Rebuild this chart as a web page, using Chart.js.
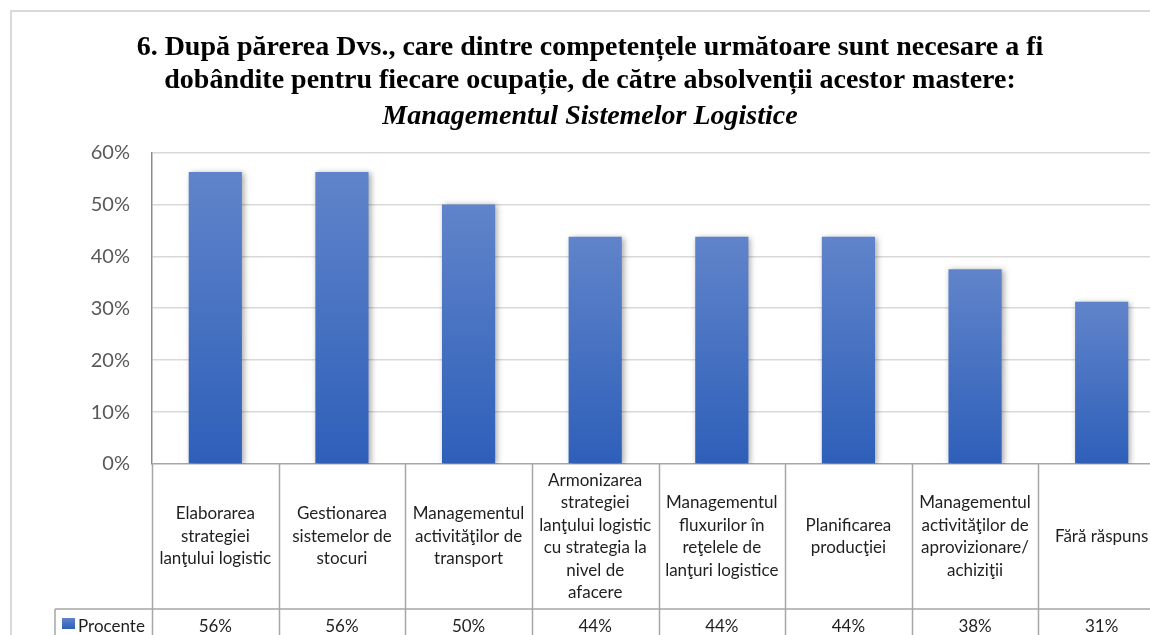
<!DOCTYPE html>
<html lang="ro">
<head>
<meta charset="UTF-8">
<title>Managementul Sistemelor Logistice</title>
<script src="https://cdn.jsdelivr.net/npm/chart.js@4.4.1/dist/chart.umd.min.js"></script>
<style>
  html, body { margin: 0; padding: 0; background: #fff; overflow: hidden; }
  #frame { position: absolute; left: 10px; top: 10px; width: 1300px; height: 800px;
           border-left: 2px solid #d9d9d9; border-top: 2px solid #d9d9d9; }
  #box { position: absolute; left: 10px; top: 0; width: 1160px; height: 650px; }
</style>
</head>
<body>
<div id="frame"></div>
<div id="box"><canvas id="chart"></canvas></div>
<script>
// date
var titleLines = ['6. După părerea Dvs., care dintre competențele următoare sunt necesare a fi',
                  'dobândite pentru fiecare ocupație, de către absolvenții acestor mastere:'];
var subtitleText = 'Managementul Sistemelor Logistice';
var seriesName = 'Procente';
var categories = [
  ['Elaborarea', 'strategiei', 'lanţului logistic'],
  ['Gestionarea', 'sistemelor de', 'stocuri'],
  ['Managementul', 'activităţilor de', 'transport'],
  ['Armonizarea', 'strategiei', 'lanţului logistic', 'cu strategia la', 'nivel de', 'afacere'],
  ['Managementul', 'fluxurilor în', 'reţelele de', 'lanţuri logistice'],
  ['Planificarea', 'producţiei'],
  ['Managementul', 'activităţilor de', 'aprovizionare/', 'achiziţii'],
  ['Fără răspuns']
];
var procente = [0.5625, 0.5625, 0.5, 0.4375, 0.4375, 0.4375, 0.375, 0.3125];
var yTicks = [0, 0.1, 0.2, 0.3, 0.4, 0.5, 0.6];

function pct(v) { return Math.round(v * 100) + '%'; }

Chart.defaults.font.family = 'Lato';

// gradient pe fiecare bara, de sus (deschis) in jos (inchis)
function barColor(c) {
  var chart = c.chart;
  if (c.type !== 'data' || !chart.chartArea) return '#4472c4';
  var y = chart.scales.y;
  var g = chart.ctx.createLinearGradient(0, y.getPixelForValue(c.raw), 0, y.getPixelForValue(0));
  g.addColorStop(0, '#6084ca');
  g.addColorStop(1, '#2e5fb9');
  return g;
}

var shadowPlugin = {
  id: 'barShadow',
  beforeDatasetsDraw: function (chart) {
    var ctx = chart.ctx;
    ctx.save();
    ctx.shadowColor = 'rgba(0,0,0,0.35)';
    ctx.shadowBlur = 6;
    ctx.shadowOffsetX = 2;
    ctx.shadowOffsetY = 1;
  },
  afterDatasetsDraw: function (chart) { chart.ctx.restore(); }
};

// tabelul de date sub grafic
var tablePlugin = {
  id: 'dataTable',
  afterDraw: function (chart) {
    var ctx = chart.ctx, a = chart.chartArea, x = chart.scales.x;
    var n = categories.length;
    var w = (a.right - a.left) / n;
    var top = a.bottom, mid = a.bottom + 145, bottom = chart.height;
    var legLeft = 45;
    ctx.save();
    ctx.strokeStyle = '#a6a6a6';
    ctx.lineWidth = 1.5;
    ctx.beginPath();
    for (var i = 0; i <= n; i++) {
      var xx = Math.round(a.left + i * w) + 0.5;
      ctx.moveTo(xx, top); ctx.lineTo(xx, bottom);
    }
    ctx.moveTo(legLeft, mid); ctx.lineTo(chart.width, mid);
    ctx.moveTo(legLeft, mid); ctx.lineTo(legLeft, bottom);
    ctx.stroke();

    ctx.fillStyle = '#1f1f1f';
    ctx.textAlign = 'center';
    ctx.textBaseline = 'middle';
    ctx.font = '17px Lato';
    var lh = 22.5;
    var cy = (top + mid) / 2;
    categories.forEach(function (lines, i) {
      var cx = x.getPixelForValue(i);
      var y0 = cy - (lines.length - 1) * lh / 2;
      lines.forEach(function (t, k) { ctx.fillText(t, cx, y0 + k * lh); });
      ctx.fillText(pct(procente[i]), cx, mid + 18);
    });

    // cheia legendei
    var g = ctx.createLinearGradient(0, mid + 9, 0, mid + 20);
    g.addColorStop(0, '#6084ca'); g.addColorStop(1, '#2e5fb9');
    ctx.fillStyle = g;
    ctx.fillRect(52, mid + 9, 13, 11);
    ctx.fillStyle = '#1f1f1f';
    ctx.textAlign = 'left';
    ctx.fillText(seriesName, 68, mid + 18);
    ctx.restore();
  }
};

var chart = new Chart(document.getElementById('chart'), {
  type: 'bar',
  data: {
    labels: categories,
    datasets: [{
      label: seriesName,
      data: procente,
      backgroundColor: barColor,
      categoryPercentage: 1,
      barPercentage: 0.42
    }]
  },
  options: {
    responsive: true,
    maintainAspectRatio: false,
    animation: false,
    layout: { padding: { left: 5, right: 5, top: 0, bottom: 0 } },
    plugins: {
      legend: { display: false },
      tooltip: { enabled: false },
      title: {
        display: true,
        text: titleLines,
        color: '#000',
        font: { family: 'Liberation Serif', size: 28, weight: 'bold', lineHeight: 1.19 },
        padding: { top: 31, bottom: 0 }
      },
      subtitle: {
        display: true,
        text: subtitleText,
        color: '#000',
        font: { family: 'Liberation Serif', size: 28, weight: 'bold', style: 'italic', lineHeight: 1.19 },
        padding: { top: 2, bottom: 19.5 }
      }
    },
    scales: {
      x: {
        ticks: { display: false },
        grid: { display: false },
        border: { display: false },
        afterFit: function (s) { s.height = 186; }
      },
      y: {
        min: 0,
        max: 0.6,
        afterBuildTicks: function (s) { s.ticks = yTicks.map(function (v) { return { value: v }; }); },
        ticks: {
          callback: function (v) { return pct(v); },
          color: '#595959',
          font: { size: 20 },
          padding: 22
        },
        grid: {
          drawTicks: false,
          color: function (c) { return c.tick && c.tick.value === 0 ? '#a6a6a6' : '#d9d9d9'; },
          lineWidth: 1.5
        },
        border: { display: true, color: '#8c8c8c', width: 1.5 },
        afterFit: function (s) { s.width = 137; }
      }
    }
  },
  plugins: [shadowPlugin, tablePlugin]
});
</script>
</body>
</html>
